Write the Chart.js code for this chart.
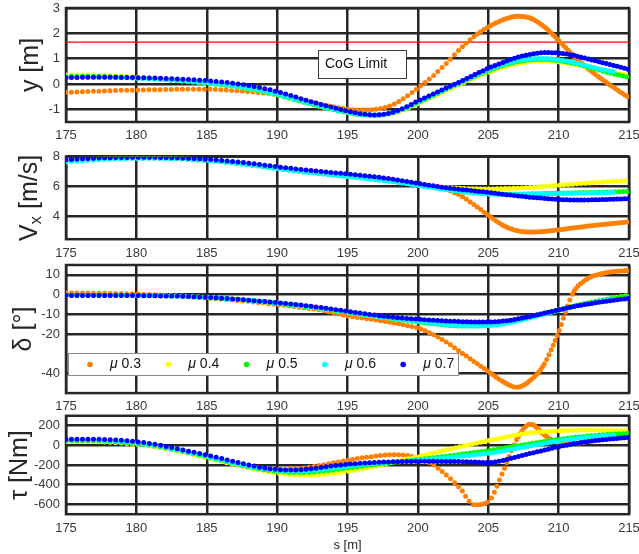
<!DOCTYPE html>
<html>
<head>
<meta charset="utf-8">
<script src="https://cdn.jsdelivr.net/npm/chart.js@4.4.1/dist/chart.umd.min.js"></script>
<style>
  html, body { margin: 0; padding: 0; background: #fff; }
  #wrap { position: relative; width: 639px; height: 554px; overflow: hidden; }
  #wrap canvas { position: absolute; left: 0; top: 0; }
</style>
</head>
<body>
<div id="wrap">
  <canvas id="cLat" width="639" height="554"></canvas>
  <canvas id="cVx" width="639" height="554"></canvas>
  <canvas id="cDelta" width="639" height="554"></canvas>
  <canvas id="cTau" width="639" height="554"></canvas>
</div>
<script>
// ---- data -----------------------------------------------------------------
// travelled distance s [m]
const sPos = [175,176,177,178,179,180,181,182,183,184,185,186,187,188,189,190,191,192,193,194,
              195,196,197,198,199,200,201,202,203,204,205,206,207,208,209,210,211,212,213,214,215];

const muLabels = ['0.3', '0.4', '0.5', '0.6', '0.7'];
const muColors = ['#ff8000', '#ffff00', '#00ff00', '#00ffff', '#0000ff'];

const xTicks     = [175, 180, 185, 190, 195, 200, 205, 210, 215];
const latTicks   = [-1, 0, 1, 2, 3];
const vxTicks    = [4, 6, 8];
const deltaTicks = [-40, -20, -10, 0, 10];
const tauTicks   = [-600, -400, -200, 0, 200];

const cogLimit = 1.65;
const cogLabel = 'CoG Limit';

// lateral position y [m]
const lat03 = [-0.33,-0.31,-0.29,-0.27,-0.25,-0.24,-0.23,-0.22,-0.21,-0.21,-0.21,-0.23,-0.26,-0.30,-0.35,-0.41,-0.52,-0.66,-0.79,-0.90,
               -0.99,-1.03,-1.00,-0.87,-0.57,-0.16,0.28,0.80,1.38,1.88,2.25,2.52,2.67,2.60,2.25,1.72,1.15,0.65,0.22,-0.17,-0.54];
const lat04 = [0.36,0.37,0.36,0.34,0.31,0.27,0.23,0.19,0.14,0.09,0.03,-0.03,-0.10,-0.19,-0.30,-0.43,-0.58,-0.73,-0.88,-1.01,
               -1.13,-1.22,-1.24,-1.18,-1.02,-0.78,-0.52,-0.26,-0.01,0.24,0.47,0.66,0.80,0.88,0.90,0.87,0.79,0.68,0.56,0.45,0.34];
const lat05 = [0.30,0.31,0.31,0.29,0.27,0.24,0.21,0.17,0.13,0.08,0.03,-0.03,-0.10,-0.19,-0.30,-0.43,-0.58,-0.73,-0.88,-1.01,
               -1.13,-1.22,-1.23,-1.16,-0.99,-0.74,-0.48,-0.21,0.04,0.29,0.52,0.72,0.87,0.95,0.97,0.92,0.82,0.68,0.53,0.39,0.26];
const lat06 = [0.27,0.28,0.28,0.27,0.25,0.23,0.20,0.17,0.13,0.09,0.04,-0.02,-0.09,-0.17,-0.28,-0.41,-0.56,-0.71,-0.86,-1.00,
               -1.12,-1.21,-1.23,-1.16,-0.98,-0.72,-0.46,-0.19,0.06,0.32,0.56,0.76,0.91,0.99,1.01,0.96,0.86,0.72,0.58,0.48,null];
const lat07 = [0.25,0.26,0.27,0.27,0.26,0.25,0.24,0.22,0.20,0.17,0.13,0.08,0.02,-0.06,-0.17,-0.30,-0.46,-0.63,-0.79,-0.93,
               -1.07,-1.18,-1.22,-1.15,-0.95,-0.67,-0.42,-0.16,0.09,0.36,0.62,0.84,1.04,1.17,1.24,1.22,1.14,1.00,0.86,0.72,0.57];

// longitudinal speed Vx [m/s]
const vx03 = [7.76,7.82,7.86,7.89,7.91,7.92,7.92,7.90,7.87,7.82,7.76,7.68,7.58,7.47,7.35,7.23,7.11,7.00,6.90,6.80,
              6.70,6.60,6.50,6.39,6.26,6.13,6.00,5.82,5.42,4.80,4.10,3.45,3.08,2.98,3.02,3.12,3.25,3.36,3.46,3.56,3.65];
const vx04 = [7.78,7.84,7.88,7.91,7.93,7.94,7.94,7.92,7.89,7.84,7.78,7.70,7.60,7.49,7.37,7.25,7.13,7.02,6.92,6.82,
              6.72,6.62,6.52,6.41,6.28,6.15,6.04,5.95,5.89,5.86,5.85,5.87,5.90,5.95,6.02,6.10,6.17,6.24,6.30,6.36,6.42];
const vx05 = [7.72,7.79,7.84,7.88,7.90,7.91,7.91,7.90,7.87,7.82,7.76,7.68,7.58,7.47,7.35,7.22,7.10,6.99,6.89,6.79,
              6.69,6.59,6.49,6.38,6.25,6.10,5.96,5.83,5.70,5.60,5.52,5.50,5.50,5.52,5.54,5.56,5.59,5.61,5.63,5.66,5.68];
const vx06 = [7.65,7.72,7.78,7.83,7.86,7.88,7.89,7.88,7.85,7.80,7.74,7.66,7.56,7.45,7.33,7.20,7.08,6.97,6.87,6.77,
              6.67,6.57,6.47,6.36,6.23,6.08,5.94,5.80,5.68,5.58,5.52,5.50,5.50,5.51,5.53,5.55,5.57,5.58,5.60,5.61,null];
const vx07 = [7.80,7.85,7.90,7.93,7.95,7.96,7.96,7.95,7.92,7.88,7.83,7.76,7.67,7.57,7.45,7.33,7.22,7.12,7.02,6.93,
              6.85,6.75,6.65,6.53,6.38,6.22,6.07,5.93,5.82,5.72,5.62,5.50,5.40,5.30,5.22,5.15,5.12,5.12,5.14,5.17,5.20];

// steering angle delta [deg]
const delta03 = [0.8,0.8,0.7,0.6,0.5,0.3,0,-0.3,-0.7,-1.2,-1.7,-2.3,-2.9,-3.5,-4.3,-5.1,-5.9,-6.8,-7.8,-9.3,
                 -10.8,-11.9,-12.9,-14,-15.4,-17,-20,-24,-29,-34,-39,-44,-47,-43.5,-35,-19,0.5,7.8,10.5,11.7,12.2];
const delta04 = [-0.3,-0.3,-0.3,-0.3,-0.3,-0.3,-0.4,-0.6,-0.8,-1.1,-1.5,-1.9,-2.4,-3.0,-3.7,-4.4,-5.2,-6.1,-7.0,-8.0,
                 -9.0,-10.0,-11.0,-12.0,-12.9,-13.7,-14.5,-15.2,-15.6,-15.7,-15.4,-14.5,-13.0,-11.2,-9.4,-7.6,-5.9,-4.3,-2.9,-1.6,-0.5];
const delta05 = [-0.3,-0.3,-0.3,-0.3,-0.3,-0.3,-0.4,-0.6,-0.8,-1.1,-1.5,-1.9,-2.4,-3.0,-3.7,-4.4,-5.2,-6.1,-7.0,-8.0,
                 -9.0,-10.0,-11.0,-12.1,-13.0,-13.9,-14.8,-15.5,-16.0,-16.0,-15.6,-14.6,-13.1,-11.3,-9.5,-7.7,-6.0,-4.4,-3.0,-1.7,-0.6];
const delta06 = [-0.4,-0.4,-0.4,-0.4,-0.4,-0.4,-0.5,-0.6,-0.8,-1.1,-1.4,-1.8,-2.3,-2.9,-3.6,-4.3,-5.1,-6.0,-6.9,-7.9,
                 -8.9,-9.9,-10.9,-11.9,-12.8,-13.6,-14.5,-15.3,-15.8,-16.0,-15.8,-15.0,-13.6,-11.8,-9.9,-8.0,-6.3,-4.7,-3.3,-2.1,null];
const delta07 = [-0.5,-0.5,-0.5,-0.5,-0.5,-0.5,-0.6,-0.7,-0.8,-1.1,-1.4,-1.8,-2.3,-2.9,-3.5,-4.1,-4.8,-5.6,-6.5,-7.5,
                 -8.5,-9.5,-10.5,-11.3,-12,-12.5,-13,-13.4,-13.7,-13.9,-13.9,-13.5,-12.5,-11,-9.4,-7.8,-6.2,-4.9,-3.8,-2.8,-1.9];

// steering torque tau [Nm]
const tau03 = [42,44,42,37,27,13,-5,-28,-56,-88,-120,-155,-190,-220,-240,-248,-245,-230,-205,-178,
               -152,-128,-110,-95,-98,-130,-190,-300,-437,-605,-573,-285,54,217,105,26,20,37,71,105,128];
const tau04 = [38,40,38,33,23,9,-9,-32,-60,-92,-126,-162,-197,-230,-260,-284,-300,-305,-300,-285,
               -265,-240,-212,-180,-148,-116,-82,-48,-15,17,47,77,105,127,140,148,153,156,155,152,148];
const tau05 = [45,47,45,40,30,16,-2,-25,-53,-85,-118,-153,-188,-220,-247,-265,-276,-276,-266,-250,
               -231,-212,-195,-178,-162,-145,-128,-110,-92,-73,-55,-30,-6,17,40,61,78,93,105,114,122];
const tau06 = [52,54,53,48,38,24,5,-20,-50,-82,-115,-150,-185,-215,-240,-255,-263,-260,-248,-231,
               -213,-197,-183,-171,-160,-150,-138,-125,-111,-97,-82,-58,-32,-6,20,45,65,82,95,105,null];
const tau07 = [60,62,62,58,50,37,18,-8,-38,-68,-99,-133,-167,-200,-228,-245,-251,-245,-228,-208,
               -192,-182,-174,-168,-165,-163,-163,-164,-166,-170,-175,-155,-118,-82,-48,-14,13,37,54,68,81];

// ---- styling ---------------------------------------------------------------
const FONT = "'Liberation Sans', Arial, Helvetica, sans-serif";
const GRID = '#262626';
const TICK_TEXT = '#3a3a3a';
const TITLE_TEXT = '#262626';
const W = 639, H = 554;
const PLOT_LEFT = 66, PLOT_RIGHT = 629;
const XAXIS_H = 28;

// Markers come from a fixed simulation time step, so their pitch along each
// trace follows the vehicle speed: cumulative sample count at every s station.
const SAMPLE_DT = 0.05;
const speeds = [vx03, vx04, vx05, vx06, vx07];
const sampleCount = speeds.map(vs => {
  const c = [0];
  for (let j = 0; j < sPos.length - 1; j++) {
    const v = vs[j] != null ? vs[j] : vs[j - 1];
    c.push(c[j] + (sPos[j + 1] - sPos[j]) / (v * SAMPLE_DT));
  }
  return c;
});
function markerPitch(series, ctx) {
  const k = ctx.p0DataIndex;
  const n = sampleCount[series][k + 1] - sampleCount[series][k];
  const len = Math.hypot(ctx.p1.x - ctx.p0.x, ctx.p1.y - ctx.p0.y);
  return len / n;
}
function markerPhase(series, ctx) {
  const c = sampleCount[series][ctx.p0DataIndex];
  return (c - Math.floor(c)) * markerPitch(series, ctx);
}

function drawRich(ctx, segs, cx, cy, rotate) {
  ctx.save();
  ctx.translate(cx, cy);
  if (rotate) ctx.rotate(-Math.PI / 2);
  let total = 0;
  const widths = segs.map(s => { ctx.font = s.font; const w = ctx.measureText(s.t).width; total += w; return w; });
  let x = -total / 2;
  ctx.textAlign = 'left';
  ctx.textBaseline = 'middle';
  segs.forEach((s, i) => {
    ctx.font = s.font;
    ctx.fillStyle = s.color || TITLE_TEXT;
    ctx.fillText(s.t, x, s.dy || 0);
    x += widths[i];
  });
  ctx.restore();
}

// frame, axis title, text box and legend drawn on each panel
function makeDeco(cfg) {
  return {
    id: 'panelDeco',
    beforeDatasetsDraw(chart) {
      const a = chart.chartArea, ctx = chart.ctx;
      ctx.save();
      ctx.strokeStyle = GRID;
      ctx.lineWidth = 2.5;
      ctx.strokeRect(a.left, a.top, a.right - a.left, a.bottom - a.top);
      ctx.restore();
    },
    afterDatasetsDraw(chart) {
      const a = chart.chartArea, ctx = chart.ctx;
      drawRich(ctx, cfg.title, cfg.titleX, (a.top + a.bottom) / 2, true);

      if (cfg.note) {
        const n = cfg.note;
        ctx.save();
        ctx.fillStyle = '#fff';
        ctx.fillRect(n.x, n.y, n.w, n.h);
        ctx.strokeStyle = '#3c3c3c';
        ctx.lineWidth = 1;
        ctx.strokeRect(n.x + 0.5, n.y + 0.5, n.w, n.h);
        ctx.fillStyle = '#111';
        ctx.font = '14px ' + FONT;
        ctx.textBaseline = 'middle';
        ctx.textAlign = 'left';
        ctx.fillText(n.text, n.x + 7, n.y + n.h / 2 + 0.5);
        ctx.restore();
      }

      if (cfg.legend) {
        const L = cfg.legend;
        const cy = L.y + L.h / 2 + 0.5;
        ctx.save();
        ctx.fillStyle = '#fff';
        ctx.fillRect(L.x, L.y, L.w, L.h);
        ctx.strokeStyle = '#8a8a8a';
        ctx.lineWidth = 1;
        ctx.strokeRect(L.x + 0.5, L.y + 0.5, L.w, L.h);
        ctx.textBaseline = 'middle';
        ctx.textAlign = 'left';
        muLabels.forEach((lab, i) => {
          const dx = L.dot0 + i * L.step;
          ctx.fillStyle = muColors[i];
          ctx.beginPath();
          ctx.arc(dx, cy, 2.8, 0, Math.PI * 2);
          ctx.fill();
          let x = dx + 20;
          ctx.fillStyle = '#111';
          ctx.font = 'italic 14px ' + FONT;
          ctx.fillText('μ', x, cy);
          x += ctx.measureText('μ').width;
          ctx.font = '14px ' + FONT;
          ctx.fillText(' ' + lab, x, cy);
        });
        ctx.restore();
      }

      if (cfg.xTitle) {
        drawRich(ctx, [{ t: cfg.xTitle, font: '13px ' + FONT, color: TITLE_TEXT }],
                 (a.left + a.right) / 2, a.bottom + 31, false);
      }
    }
  };
}

function seriesSets(values) {
  return values.map((vals, i) => ({
    data: sPos.map((s, k) => ({ x: s, y: vals[k] })),
    borderColor: muColors[i],
    backgroundColor: muColors[i],
    borderWidth: 5,
    borderDash: [0, 5.6],
    borderCapStyle: 'round',
    segment: {
      borderDash: ctx => [0, markerPitch(i, ctx)],
      borderDashOffset: ctx => markerPhase(i, ctx)
    },
    pointRadius: 0,
    fill: false,
    cubicInterpolationMode: 'monotone',
    order: 5 - i
  }));
}

function makePanel(id, cfg) {
  const datasets = seriesSets(cfg.values);
  if (cfg.extra) datasets.push(...cfg.extra);
  return new Chart(document.getElementById(id), {
    type: 'line',
    data: { datasets },
    options: {
      responsive: false,
      animation: false,
      devicePixelRatio: 1,
      events: [],
      layout: { padding: { top: cfg.top, left: 0, right: W - PLOT_RIGHT, bottom: H - cfg.bottom - XAXIS_H } },
      plugins: { legend: { display: false }, tooltip: { enabled: false }, title: { display: false } },
      scales: {
        x: {
          type: 'linear', min: 175, max: 215,
          afterBuildTicks: s => { s.ticks = xTicks.map(v => ({ value: v })); },
          afterFit: s => { s.height = XAXIS_H; s.paddingLeft = 0; s.paddingRight = 0; },
          grid: { color: GRID, lineWidth: 2.5, drawTicks: false },
          border: { display: false },
          ticks: { padding: 6, maxRotation: 0, autoSkip: false, color: TICK_TEXT, font: { family: FONT, size: 13 } }
        },
        y: {
          type: 'linear', min: cfg.min, max: cfg.max,
          afterBuildTicks: s => { s.ticks = cfg.ticks.map(v => ({ value: v })); },
          afterFit: s => { s.width = PLOT_LEFT; s.paddingTop = 0; s.paddingBottom = 0; },
          grid: { color: GRID, lineWidth: 2.5, drawTicks: false },
          border: { display: false },
          ticks: { padding: 6, autoSkip: false, color: TICK_TEXT, font: { family: FONT, size: 13 } }
        }
      }
    },
    plugins: [makeDeco(cfg)]
  });
}

const T = '25px ' + FONT;

makePanel('cLat', {
  top: 8, bottom: 122, min: -1.5, max: 3, ticks: latTicks,
  values: [lat03, lat04, lat05, lat06, lat07],
  extra: [{
    data: [{ x: 175, y: cogLimit }, { x: 215, y: cogLimit }],
    borderColor: '#ff0000', borderWidth: 1.2, pointRadius: 0, fill: false, order: 10
  }],
  title: [{ t: 'y [m]', font: T }], titleX: 31,
  note: { text: cogLabel, x: 318, y: 50, w: 88, h: 28 }
});

makePanel('cVx', {
  top: 156.7, bottom: 239.2, min: 2.5, max: 8, ticks: vxTicks,
  values: [vx03, vx04, vx05, vx06, vx07],
  title: [{ t: 'V', font: T }, { t: 'x', font: '17px ' + FONT, dy: 6 }, { t: ' [m/s]', font: T }], titleX: 30
});

makePanel('cDelta', {
  top: 265, bottom: 393.1, min: -50, max: 15, ticks: deltaTicks,
  values: [delta03, delta04, delta05, delta06, delta07],
  title: [{ t: 'δ [°]', font: T }], titleX: 24,
  legend: { x: 68, y: 353, w: 390, h: 22, dot0: 90, step: 78.3 }
});

makePanel('cTau', {
  top: 415.8, bottom: 514.2, min: -700, max: 300, ticks: tauTicks,
  values: [tau03, tau04, tau05, tau06, tau07],
  title: [{ t: 'τ [Nm]', font: T }], titleX: 20,
  xTitle: 's [m]'
});
</script>
</body>
</html>
